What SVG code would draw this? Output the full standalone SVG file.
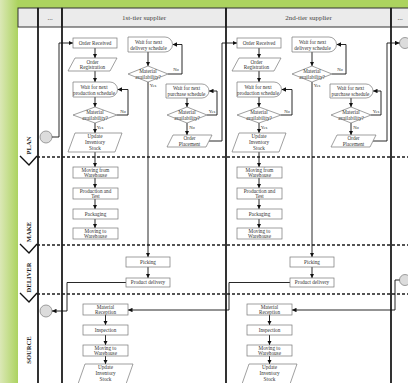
<svg xmlns="http://www.w3.org/2000/svg" width="408" height="383" viewBox="0 0 408 383">
<style>
.box{fill:#fff;stroke:#777;stroke-width:0.7}
.t{font-family:"Liberation Serif","Times New Roman",serif;font-size:5.2px;fill:#333;text-anchor:middle}
.lbl{font-size:4.6px}
.hdr{font-size:7px;fill:#444}
.stage{font-weight:bold;font-size:6.6px;fill:#222}
.c{fill:none;stroke:#111;stroke-width:0.9}
.ca{fill:none;stroke:#111;stroke-width:0.9;marker-end:url(#ah)}
.lane{stroke:#1c1c1c;stroke-width:1.8}
.dash{stroke:#1c1c1c;stroke-width:1.5;stroke-dasharray:3 2}
.hcell{fill:#ebebeb;stroke:#333;stroke-width:1}
.circ{fill:#dcdcdc;stroke:#888;stroke-width:0.8}
</style>
<defs>
<linearGradient id="bg" gradientUnits="userSpaceOnUse" x1="0" y1="0" x2="18" y2="0">
<stop offset="0" stop-color="#dbe8b6"/><stop offset="1" stop-color="#acd35f"/>
</linearGradient>
<marker id="ah" viewBox="0 0 10 10" refX="10" refY="5" markerWidth="4.5" markerHeight="4.5" markerUnits="userSpaceOnUse" orient="auto"><path d="M0,0 L10,5 L0,10 z" fill="#111"/></marker>
</defs>
<rect x="0" y="0" width="408" height="383" fill="#acd35f"/>
<rect x="0" y="0" width="18" height="383" fill="url(#bg)"/>
<rect x="18" y="8" width="390" height="375" fill="#fff"/>

<g id="header">
<rect class="hcell" x="18" y="8" width="20" height="19"/>
<rect class="hcell" x="38" y="8" width="24" height="19"/>
<rect class="hcell" x="62" y="8" width="164" height="19"/>
<rect class="hcell" x="226" y="8" width="165" height="19"/>
<rect class="hcell" x="391" y="8" width="20" height="19"/>
<text class="t hdr" x="50" y="20">...</text>
<text class="t hdr" x="144" y="20">1st-tier supplier</text>
<text class="t hdr" x="308.5" y="20">2nd-tier supplier</text>
<text class="t hdr" x="400" y="20">...</text>
</g>

<g id="lanes">
<line class="lane" x1="38" y1="8" x2="38" y2="383"/>
<line class="lane" x1="62" y1="8" x2="62" y2="383"/>
<line class="lane" x1="226" y1="8" x2="226" y2="383"/>
<line class="lane" x1="391" y1="8" x2="391" y2="383"/>
<line class="dash" x1="37" y1="157" x2="408" y2="157"/>
<line class="dash" x1="37" y1="245" x2="408" y2="245"/>
<line class="dash" x1="37" y1="294" x2="408" y2="294"/>
<polyline class="c" style="stroke-width:1.4" points="20,156 29,165 37,156"/>
<polyline class="c" style="stroke-width:1.4" points="20,244 29,253 37,244"/>
<polyline class="c" style="stroke-width:1.4" points="20,293 29,302 37,293"/>
<text class="t stage" transform="translate(30.5,145.5) rotate(-90)">PLAN</text>
<text class="t stage" transform="translate(30.5,232) rotate(-90)">MAKE</text>
<text class="t stage" transform="translate(30.5,277.5) rotate(-90)">DELIVER</text>
<text class="t stage" transform="translate(30.5,350) rotate(-90)">SOURCE</text>
</g>

<g id="connectors">
<circle class="circ" cx="46" cy="137" r="6"/>
<circle class="circ" cx="46" cy="311" r="6"/>
<circle class="circ" cx="405" cy="43" r="5.5"/>
<circle class="circ" cx="405" cy="280" r="5.5"/>
<!-- 1st tier -->
<path class="ca" d="M52,137 H59 V43 H73"/>
<path class="ca" d="M95,48 V58"/>
<path class="ca" d="M95,71 V82"/>
<path class="ca" d="M95,97 V107"/>
<path class="ca" d="M117,115 H128 V89.5 H117.5"/>
<path class="ca" d="M95,123 V133"/>
<path class="ca" d="M95,152 V167"/>
<path class="ca" d="M95,178 V188"/>
<path class="ca" d="M95,199 V209"/>
<path class="ca" d="M95,219 V228"/>
<path class="ca" d="M148,52 V66"/>
<path class="ca" d="M168,74 H182 V44.5 H172.5"/>
<path class="ca" d="M148,82 V257"/>
<path class="ca" d="M148,267 V278"/>
<path class="ca" d="M126,282.5 H67 V311 H52"/>
<path class="ca" d="M187,98 V107"/>
<path class="ca" d="M207,115 H217 V91 H209"/>
<path class="ca" d="M187,123 V135"/>
<path class="ca" d="M209,141 H222 V43 H237"/>
<path class="ca" d="M105.5,315 V325"/>
<path class="ca" d="M105.5,335 V345"/>
<path class="ca" d="M105.5,356 V364"/>
<!-- 2nd tier -->
<path class="ca" d="M259,48 V58"/>
<path class="ca" d="M259,71 V82"/>
<path class="ca" d="M259,97 V107"/>
<path class="ca" d="M281,115 H292 V89.5 H281.5"/>
<path class="ca" d="M259,123 V133"/>
<path class="ca" d="M259,152 V167"/>
<path class="ca" d="M259,178 V188"/>
<path class="ca" d="M259,199 V209"/>
<path class="ca" d="M259,219 V228"/>
<path class="ca" d="M312,52 V66"/>
<path class="ca" d="M332,74 H346 V44.5 H336.5"/>
<path class="ca" d="M312,82 V257"/>
<path class="ca" d="M312,267 V278"/>
<path class="ca" d="M290,282.5 H229 V310 H128"/>
<path class="ca" d="M351,98 V107"/>
<path class="ca" d="M371,115 H381 V91 H373"/>
<path class="ca" d="M351,123 V135"/>
<path class="ca" d="M373,141 H387 V43 H399.5"/>
<path class="ca" d="M399.5,280 H395 V310 H292"/>
<path class="ca" d="M269.5,315 V325"/>
<path class="ca" d="M269.5,335 V345"/>
<path class="ca" d="M269.5,356 V364"/>
<!-- branch labels -->
<text class="t lbl" x="123" y="112.5">No</text>
<text class="t lbl" x="100" y="129">Yes</text>
<text class="t lbl" x="176" y="71">No</text>
<text class="t lbl" x="153" y="87">Yes</text>
<text class="t lbl" x="212" y="112.5">Yes</text>
<text class="t lbl" x="192" y="129">No</text>
<text class="t lbl" x="287" y="112.5">No</text>
<text class="t lbl" x="264" y="129">Yes</text>
<text class="t lbl" x="340" y="71">No</text>
<text class="t lbl" x="317" y="87">Yes</text>
<text class="t lbl" x="376" y="112.5">Yes</text>
<text class="t lbl" x="356" y="129">No</text>
</g>

<!-- 1st tier nodes -->
<g id="t1-order-received"><rect class="box" x="73" y="38" width="44" height="10"/><text class="t" x="95" y="44.8">Order Received</text></g>
<g id="t1-order-registration"><polygon class="box" points="75,58 117,58 110,71 68,71"/><text class="t" x="92.5" y="63.5">Order</text><text class="t" x="92.5" y="69.3">Registration</text></g>
<g id="t1-wait-production"><path class="box" d="M73,82 H110 A7.5,7.5 0 0 1 110,97 H73 Z"/><text class="t" x="94" y="88.5">Wait for next</text><text class="t" x="94" y="94.5">production schedule</text></g>
<g id="t1-material-prod"><polygon class="box" points="73,115 95,107 117,115 95,123"/><text class="t" x="95" y="114.2">Material</text><text class="t" x="95" y="119.6">availability?</text></g>
<g id="t1-update-stock-plan"><polygon class="box" points="75,133 122,133 115,152 68,152"/><text class="t" x="95" y="137.8">Update</text><text class="t" x="95" y="143.8">Inventory</text><text class="t" x="95" y="149.8">Stock</text></g>
<g id="t1-moving-from"><rect class="box" x="73" y="167" width="45" height="11"/><text class="t" x="95.5" y="171.8">Moving from</text><text class="t" x="95.5" y="177.2">Warehouse</text></g>
<g id="t1-production-test"><rect class="box" x="73" y="188" width="45" height="11"/><text class="t" x="95.5" y="192.8">Production and</text><text class="t" x="95.5" y="198.2">Test</text></g>
<g id="t1-packaging"><rect class="box" x="73" y="209" width="45" height="10"/><text class="t" x="95.5" y="215.8">Packaging</text></g>
<g id="t1-moving-to"><rect class="box" x="73" y="228" width="45" height="11"/><text class="t" x="95.5" y="232.8">Moving to</text><text class="t" x="95.5" y="238.2">Warehouse</text></g>
<g id="t1-wait-delivery"><path class="box" d="M128,37 H165 A7.5,7.5 0 0 1 165,52 H128 Z"/><text class="t" x="148.5" y="43.5">Wait for next</text><text class="t" x="148.5" y="49.5">delivery schedule</text></g>
<g id="t1-material-deliv"><polygon class="box" points="128,74 148,66 168,74 148,82"/><text class="t" x="148" y="73.2">Material</text><text class="t" x="148" y="78.6">availability?</text></g>
<g id="t1-picking"><rect class="box" x="126" y="257" width="44" height="10"/><text class="t" x="148" y="263.8">Picking</text></g>
<g id="t1-product-delivery"><rect class="box" x="126" y="278" width="44" height="9"/><text class="t" x="148" y="284.3">Product delivery</text></g>
<g id="t1-wait-purchase"><path class="box" d="M166,84 H202 A7,7 0 0 1 202,98 H166 Z"/><text class="t" x="186.5" y="89.5">Wait for next</text><text class="t" x="186.5" y="95.5">purchase schedule</text></g>
<g id="t1-material-purch"><polygon class="box" points="167,115 187,107 207,115 187,123"/><text class="t" x="187" y="114.2">Material</text><text class="t" x="187" y="119.6">availability?</text></g>
<g id="t1-order-placement"><polygon class="box" points="173,135 212,135 206,147 167,147"/><text class="t" x="189.5" y="140.3">Order</text><text class="t" x="189.5" y="145.8">Placement</text></g>
<g id="t1-material-reception"><rect class="box" x="83" y="304" width="45" height="11"/><text class="t" x="105.5" y="308.8">Material</text><text class="t" x="105.5" y="314.2">Reception</text></g>
<g id="t1-inspection"><rect class="box" x="83" y="325" width="45" height="10"/><text class="t" x="105.5" y="331.8">Inspection</text></g>
<g id="t1-moving-to-src"><rect class="box" x="83" y="345" width="45" height="11"/><text class="t" x="105.5" y="349.8">Moving to</text><text class="t" x="105.5" y="355.2">Warehouse</text></g>
<g id="t1-update-stock-src"><polygon class="box" points="85,364 133,364 126,384 78,384"/><text class="t" x="105.5" y="368.8">Update</text><text class="t" x="105.5" y="374.8">Inventory</text><text class="t" x="105.5" y="380.8">Stock</text></g>

<!-- 2nd tier nodes -->
<g id="t2-order-received"><rect class="box" x="237" y="38" width="44" height="10"/><text class="t" x="259" y="44.8">Order Received</text></g>
<g id="t2-order-registration"><polygon class="box" points="239,58 281,58 274,71 232,71"/><text class="t" x="256.5" y="63.5">Order</text><text class="t" x="256.5" y="69.3">Registration</text></g>
<g id="t2-wait-production"><path class="box" d="M237,82 H274 A7.5,7.5 0 0 1 274,97 H237 Z"/><text class="t" x="258" y="88.5">Wait for next</text><text class="t" x="258" y="94.5">production schedule</text></g>
<g id="t2-material-prod"><polygon class="box" points="237,115 259,107 281,115 259,123"/><text class="t" x="259" y="114.2">Material</text><text class="t" x="259" y="119.6">availability?</text></g>
<g id="t2-update-stock-plan"><polygon class="box" points="239,133 286,133 279,152 232,152"/><text class="t" x="259" y="137.8">Update</text><text class="t" x="259" y="143.8">Inventory</text><text class="t" x="259" y="149.8">Stock</text></g>
<g id="t2-moving-from"><rect class="box" x="237" y="167" width="45" height="11"/><text class="t" x="259.5" y="171.8">Moving from</text><text class="t" x="259.5" y="177.2">Warehouse</text></g>
<g id="t2-production-test"><rect class="box" x="237" y="188" width="45" height="11"/><text class="t" x="259.5" y="192.8">Production and</text><text class="t" x="259.5" y="198.2">Test</text></g>
<g id="t2-packaging"><rect class="box" x="237" y="209" width="45" height="10"/><text class="t" x="259.5" y="215.8">Packaging</text></g>
<g id="t2-moving-to"><rect class="box" x="237" y="228" width="45" height="11"/><text class="t" x="259.5" y="232.8">Moving to</text><text class="t" x="259.5" y="238.2">Warehouse</text></g>
<g id="t2-wait-delivery"><path class="box" d="M292,37 H329 A7.5,7.5 0 0 1 329,52 H292 Z"/><text class="t" x="312.5" y="43.5">Wait for next</text><text class="t" x="312.5" y="49.5">delivery schedule</text></g>
<g id="t2-material-deliv"><polygon class="box" points="292,74 312,66 332,74 312,82"/><text class="t" x="312" y="73.2">Material</text><text class="t" x="312" y="78.6">availability?</text></g>
<g id="t2-picking"><rect class="box" x="290" y="257" width="44" height="10"/><text class="t" x="312" y="263.8">Picking</text></g>
<g id="t2-product-delivery"><rect class="box" x="290" y="278" width="44" height="9"/><text class="t" x="312" y="284.3">Product delivery</text></g>
<g id="t2-wait-purchase"><path class="box" d="M330,84 H366 A7,7 0 0 1 366,98 H330 Z"/><text class="t" x="350.5" y="89.5">Wait for next</text><text class="t" x="350.5" y="95.5">purchase schedule</text></g>
<g id="t2-material-purch"><polygon class="box" points="331,115 351,107 371,115 351,123"/><text class="t" x="351" y="114.2">Material</text><text class="t" x="351" y="119.6">availability?</text></g>
<g id="t2-order-placement"><polygon class="box" points="337,135 376,135 370,147 331,147"/><text class="t" x="353.5" y="140.3">Order</text><text class="t" x="353.5" y="145.8">Placement</text></g>
<g id="t2-material-reception"><rect class="box" x="247" y="304" width="45" height="11"/><text class="t" x="269.5" y="308.8">Material</text><text class="t" x="269.5" y="314.2">Reception</text></g>
<g id="t2-inspection"><rect class="box" x="247" y="325" width="45" height="10"/><text class="t" x="269.5" y="331.8">Inspection</text></g>
<g id="t2-moving-to-src"><rect class="box" x="247" y="345" width="45" height="11"/><text class="t" x="269.5" y="349.8">Moving to</text><text class="t" x="269.5" y="355.2">Warehouse</text></g>
<g id="t2-update-stock-src"><polygon class="box" points="249,364 297,364 290,384 242,384"/><text class="t" x="269.5" y="368.8">Update</text><text class="t" x="269.5" y="374.8">Inventory</text><text class="t" x="269.5" y="380.8">Stock</text></g>
</svg>
